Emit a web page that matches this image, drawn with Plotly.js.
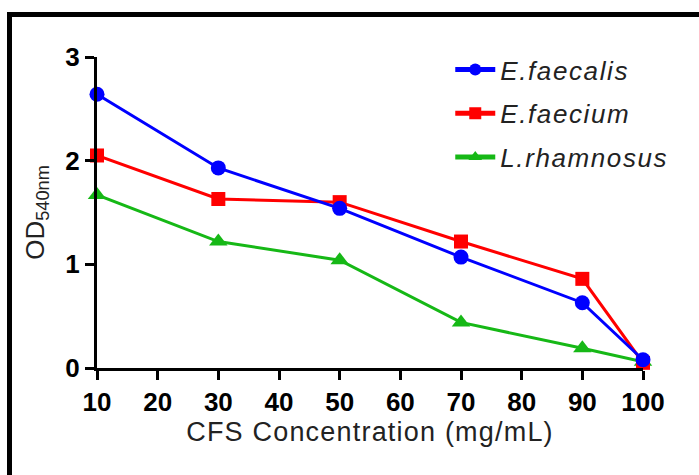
<!DOCTYPE html>
<html>
<head>
<meta charset="utf-8">
<script src="https://cdn.plot.ly/plotly-3.0.1.min.js"></script>
<style>
html,body{margin:0;padding:0;background:#fff;}
#wrap{position:relative;width:699px;height:475px;overflow:hidden;}
#chart{position:absolute;left:0;top:0;width:699px;height:475px;}
#frame{position:absolute;left:7px;top:12px;width:800px;height:600px;border-top:5px solid #000;border-left:5px solid #000;pointer-events:none;}
.legendtext{letter-spacing:1.6px;}
.xtitle{letter-spacing:1.2px;}
</style>
</head>
<body>
<div id="wrap"><div id="chart"></div><div id="frame"></div></div>
<script>
const concentrations = [10, 30, 50, 70, 90, 100];
const eFaecalis = [2.64, 1.93, 1.54, 1.07, 0.63, 0.08];
const eFaecium = [2.05, 1.63, 1.60, 1.22, 0.86, 0.05];
const lRhamnosus = [1.67, 1.22, 1.04, 0.44, 0.19, 0.06];
const xTicks = [10, 20, 30, 40, 50, 60, 70, 80, 90, 100];
const yTicks = [0, 1, 2, 3];

const green = '#16b816', red = '#ff0000', blue = '#0000ff';
const data = [
  {x: concentrations, y: lRhamnosus, name: 'L.rhamnosus', mode: 'lines+markers', legendrank: 3, legendgroup: 'c',
   line: {color: green, width: 3}, marker: {symbol: 'triangle-up', size: 16, color: green}, cliponaxis: false},
  {x: concentrations, y: eFaecium, name: 'E.faecium', mode: 'lines+markers', legendrank: 2, legendgroup: 'b',
   line: {color: red, width: 3}, marker: {symbol: 'square', size: 14, color: red}, cliponaxis: false},
  {x: concentrations, y: eFaecalis, name: 'E.faecalis', mode: 'lines+markers', legendrank: 1, legendgroup: 'a',
   line: {color: blue, width: 3}, marker: {symbol: 'circle', size: 15, color: blue}, cliponaxis: false}
];
const layout = {
  width: 699, height: 475,
  margin: {l: 97, r: 56, t: 57, b: 107},
  paper_bgcolor: '#fff', plot_bgcolor: '#fff',
  font: {family: 'Liberation Sans, Arial, sans-serif', color: '#111'},
  showlegend: true,
  legend: {x: 0.647, y: 1.035, xanchor: 'left', yanchor: 'top', bgcolor: 'rgba(0,0,0,0)',
           itemwidth: 40, itemsizing: 'constant',
           font: {size: 26, style: 'italic', color: '#222'}, tracegroupgap: 7, traceorder: 'grouped'},
  xaxis: {range: [10, 100], tickvals: xTicks, ticktext: xTicks.map(String), showgrid: false, zeroline: false,
          showline: true, linecolor: '#000', linewidth: 3, ticks: 'outside', ticklen: 9, tickwidth: 3, tickcolor: '#000',
          tickfont: {size: 26, weight: 'bold', color: '#000'},
          title: {text: 'CFS Concentration (mg/mL)', font: {size: 27, color: '#222'}, standoff: 6}},
  yaxis: {range: [0, 3], tickvals: yTicks, showgrid: false, zeroline: false,
          showline: true, linecolor: '#000', linewidth: 3, ticks: 'outside', ticklen: 9, tickwidth: 3, tickcolor: '#000',
          tickfont: {size: 26, weight: 'bold', color: '#000'},
          title: {text: 'OD<sub>540nm</sub>', font: {size: 26, color: '#222'}, standoff: 14}}
};
Plotly.newPlot('chart', data, layout, {staticPlot: true});
</script>
</body>
</html>
